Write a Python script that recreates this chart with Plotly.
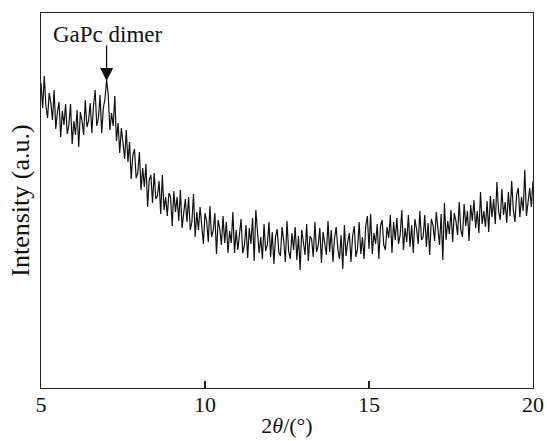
import plotly.graph_objects as go

# Diffraction angle grid (2theta, degrees): start and step of the scan
two_theta_start = 5.0
two_theta_step = 0.05
# Intensity (a.u.)
intensity = [
    305, 280, 312, 282, 270, 295, 285, 268, 298, 259,
    276, 286, 251, 277, 263, 284, 254, 263, 284, 244,
    267, 253, 278, 241, 276, 267, 253, 288, 261, 267,
    285, 255, 282, 298, 262, 270, 293, 255, 280, 289,
    308, 293, 258, 275, 262, 292, 247, 265, 235, 260,
    245, 229, 258, 226, 246, 209, 233, 239, 210, 215,
    236, 198, 220, 201, 224, 181, 208, 213, 185, 215,
    189, 192, 207, 174, 213, 178, 191, 172, 195, 191,
    162, 197, 176, 191, 167, 198, 160, 178, 189, 166,
    191, 158, 166, 194, 151, 176, 158, 181, 162, 144,
    175, 167, 146, 182, 151, 157, 175, 134, 168, 159,
    143, 172, 145, 166, 135, 157, 145, 176, 135, 158,
    138, 151, 169, 135, 142, 163, 130, 160, 144, 170,
    127, 178, 160, 135, 151, 129, 164, 137, 143, 166,
    131, 156, 124, 151, 159, 136, 132, 161, 147, 126,
    167, 137, 129, 155, 138, 161, 128, 152, 118, 158,
    146, 133, 164, 127, 152, 149, 131, 166, 136, 142,
    160, 125, 156, 143, 133, 167, 136, 158, 126, 150,
    161, 139, 129, 153, 119, 163, 132, 146, 155, 126,
    152, 162, 131, 139, 166, 134, 151, 129, 162, 172,
    139, 174, 134, 155, 144, 164, 129, 162, 168, 143,
    138, 161, 150, 173, 135, 166, 148, 170, 144, 153,
    178, 138, 160, 146, 173, 141, 163, 135, 169, 159,
    144, 177, 148, 151, 173, 141, 165, 133, 169, 163,
    147, 176, 156, 143, 174, 128, 185, 148, 167, 154,
    178, 146, 175, 167, 153, 186, 158, 151, 184, 162,
    177, 147, 183, 167, 188, 160, 177, 155, 196, 164,
    177, 161, 187, 156, 192, 171, 189, 164, 206, 177,
    168, 199, 173, 186, 165, 196, 172, 207, 178, 166,
    193, 200, 171, 191, 177, 218, 172, 190, 200, 181,
    207,
]
two_theta = [round(two_theta_start + i * two_theta_step, 2) for i in range(len(intensity))]

x_ticks = [5, 10, 15, 20]
peak_label = "GaPc dimer"
peak_position = 7.0
peak_tip = 307

FONT = "Liberation Serif, Times New Roman, serif"

fig = go.Figure()
fig.add_trace(go.Scatter(
    x=two_theta, y=intensity, mode="lines",
    line=dict(color="#111111", width=1.2),
    showlegend=False, hoverinfo="skip",
))

fig.add_annotation(
    x=peak_position, y=peak_tip, xref="x", yref="y",
    text="", showarrow=True, ax=0, ay=-37,
    arrowhead=2, arrowsize=2.0, arrowwidth=1.3, arrowcolor="#111111",
)
fig.add_annotation(
    x=7.04, y=354, xref="x", yref="y",
    text=peak_label, showarrow=False,
    font=dict(family=FONT, size=23, color="#111111"),
    xanchor="center", yanchor="middle",
)

fig.update_layout(
    width=547, height=441,
    margin=dict(l=41, r=14, t=13, b=53),
    paper_bgcolor="white", plot_bgcolor="white",
    font=dict(family=FONT, size=22, color="#111111"),
)
fig.update_xaxes(
    range=[5, 20], tickvals=x_ticks, ticktext=[str(t) for t in x_ticks],
    ticks="inside", ticklen=7, tickwidth=1.5, tickcolor="#222222",
    ticklabelstandoff=-4,
    showline=True, linecolor="#222222", linewidth=1.3, mirror=True,
    showgrid=False, zeroline=False, automargin=False,
    tickfont=dict(family=FONT, size=22),
    title=dict(text="2<i>θ</i>/(°)", font=dict(family=FONT, size=22), standoff=2),
)
fig.update_yaxes(
    range=[0, 375], showticklabels=False, ticks="",
    showline=True, linecolor="#222222", linewidth=1.3, mirror=True,
    showgrid=False, zeroline=False, automargin=False,
    title=dict(text="Intensity (a.u.)", font=dict(family=FONT, size=26), standoff=2),
)

fig.write_html(
    "out.html",
    config={"displayModeBar": False},
    post_script="document.body.style.margin='0';document.body.style.overflow='hidden';",
)
